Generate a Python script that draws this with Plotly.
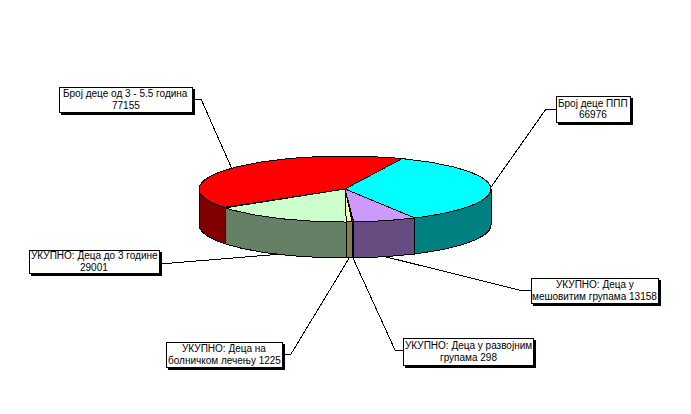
import math
import plotly.graph_objects as go

categories = ["Број деце ППП", "УКУПНО: Деца у мешовитим групама",
              "УКУПНО: Деца у развојним групама", "УКУПНО: Деца на болничком лечењу",
              "УКУПНО: Деца до 3 године", "Број деце од 3 - 5.5 година"]
values = [66976, 13158, 298, 1225, 29001, 77155]
label_lines = [
    ["Број деце ППП", "66976"],
    ["УКУПНО: Деца у", "мешовитим групама 13158"],
    ["УКУПНО: Деца у развојним", "групама 298"],
    ["УКУПНО: Деца на", "болничком лечењу 1225"],
    ["УКУПНО: Деца до 3 године", "29001"],
    ["Број деце од 3 - 5.5 година", "77155"],
]
top_colors = ["#00FFFF", "#CC99FF", "#993366", "#FFFF99", "#CCFFCC", "#FF0000"]
side_colors = ["#008080", "#664C80", "#4C1933", "#80804C", "#668066", "#800000"]

# Layout of the pie (pixels) and label boxes
CX, CY, RX, RY, DEPTH = 345, 189, 146, 33, 36
START = 23
boxes = [(556, 96, 630, 122), (531, 278, 658, 303), (403, 338, 533, 365),
         (166, 342, 282, 367), (29, 250, 159, 273), (59, 87, 192, 112)]
elbows = [(546, 109, 556), (519, 290, 531), (395, 350, 403),
          (291, 354, 282), (172, 263, 159), (201, 99, 192)]
LINE_GAP = 11.2


def pt(a, dz=0):
    r = math.radians(a)
    return CX + RX * math.sin(r), CY - RY * math.cos(r) + dz


def arc(a0, a1, dz=0):
    n = max(2, int(abs(a1 - a0)) + 2)
    return [pt(a0 + (a1 - a0) * i / (n - 1), dz) for i in range(n)]


total = sum(values)
angles = [START]
for v in values:
    angles.append(angles[-1] + 360 * v / total)

fig = go.Figure()


def poly(points, color):
    fig.add_trace(go.Scatter(
        x=[p[0] for p in points], y=[p[1] for p in points], mode="lines",
        fill="toself", fillcolor=color, line=dict(color="black", width=1),
        hoverinfo="skip", showlegend=False))


# front walls
for i in range(len(values)):
    for off in (0, 360):
        a0 = max(angles[i], 90 + off)
        a1 = min(angles[i + 1], 270 + off)
        if a1 > a0:
            pts = arc(a0, a1) + arc(a1, a0, DEPTH)
            poly(pts + pts[:1], side_colors[i])

# top faces
for i in range(len(values)):
    pts = [(CX, CY)] + arc(angles[i], angles[i + 1]) + [(CX, CY)]
    poly(pts, top_colors[i])

# leader lines, anchored on the middle of each slice
for i in range(len(values)):
    mid = (angles[i] + angles[i + 1]) / 2
    c = math.cos(math.radians(mid))
    ax, ay = pt(mid, DEPTH if c < -0.05 else 0)
    ex, ey, bx = elbows[i]
    fig.add_trace(go.Scatter(x=[bx, ex, ax], y=[ey, ey, ay], mode="lines",
                             line=dict(color="black", width=1),
                             hoverinfo="skip", showlegend=False))

shapes, annotations = [], []
for (x0, y0, x1, y1), lines in zip(boxes, label_lines):
    shapes.append(dict(type="rect", x0=x0 + 2, y0=y0 + 2, x1=x1 + 2, y1=y1 + 2,
                       fillcolor="black", line=dict(color="black", width=1), layer="above"))
    shapes.append(dict(type="rect", x0=x0, y0=y0, x1=x1, y1=y1,
                       fillcolor="white", line=dict(color="black", width=1), layer="above"))
    for k, line in enumerate(lines):
        annotations.append(dict(x=(x0 + x1) / 2, y=(y0 + y1) / 2 + (k - 0.5) * LINE_GAP,
                                text=line, showarrow=False,
                                xanchor="center", yanchor="middle",
                                font=dict(family="Liberation Sans", size=10, color="black")))

fig.update_layout(
    width=691, height=414, margin=dict(l=0, r=0, t=0, b=0),
    paper_bgcolor="white", plot_bgcolor="white",
    xaxis=dict(range=[0, 691], visible=False),
    yaxis=dict(range=[414, 0], visible=False),
    shapes=shapes, annotations=annotations,
)
fig.write_html("out.html", config={"displayModeBar": False},
               post_script="document.body.style.margin='0';"
                           "document.querySelectorAll('svg path').forEach(function(p){p.style.shapeRendering='crispEdges';});")
